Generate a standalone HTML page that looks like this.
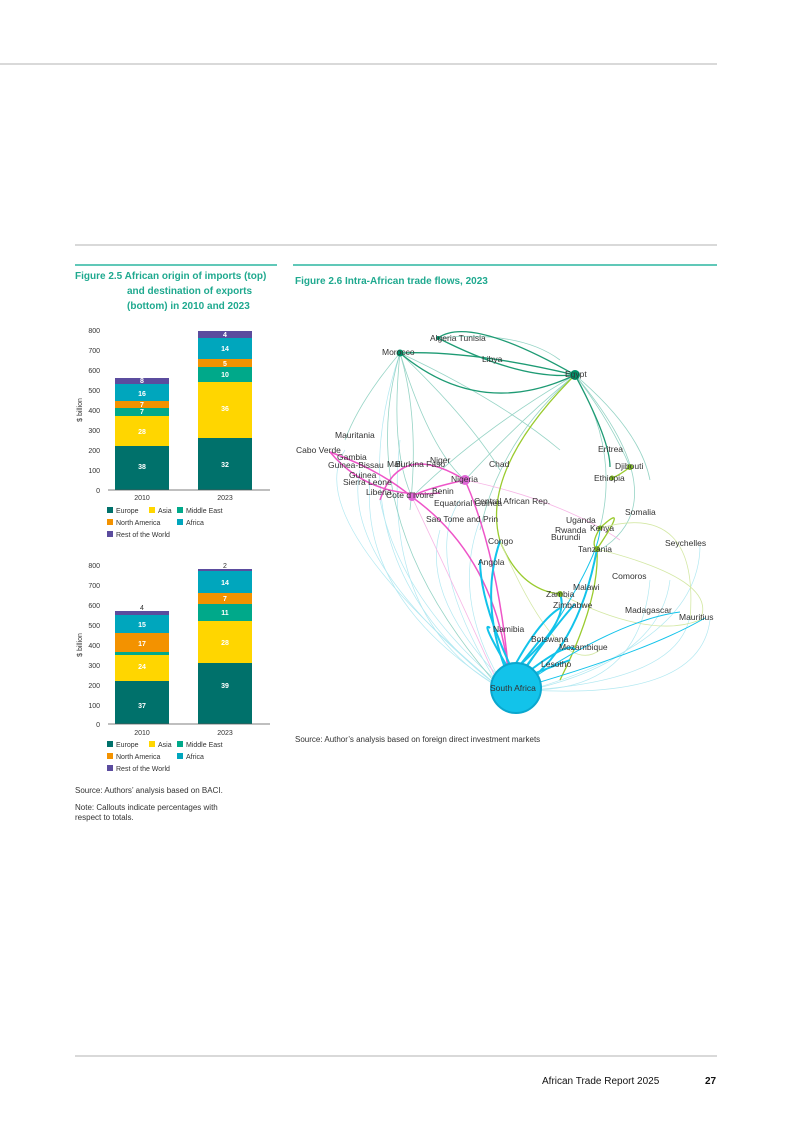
<!DOCTYPE html>
<html><head><meta charset="utf-8"><style>
body{margin:0;background:#fff;}
svg{display:block;font-family:"Liberation Sans",sans-serif;}
</style></head><body>
<svg width="793" height="1121" viewBox="0 0 793 1121" xmlns="http://www.w3.org/2000/svg">
<rect width="793" height="1121" fill="#fff"/>
<line x1="0" y1="64" x2="717" y2="64" stroke="#b3b3b3" stroke-width="1"/>
<line x1="75" y1="245" x2="717" y2="245" stroke="#b3b3b3" stroke-width="1"/>
<line x1="75" y1="265" x2="277" y2="265" stroke="#2bb5a0" stroke-width="1.5"/>
<line x1="293" y1="265" x2="717" y2="265" stroke="#2bb5a0" stroke-width="1.5"/>
<line x1="75" y1="1056" x2="717" y2="1056" stroke="#b3b3b3" stroke-width="1"/>

<g font-weight="bold" font-size="10" fill="#1fa98f">
<text x="75" y="279">Figure 2.5 African origin of imports (top)</text>
<text x="127" y="294">and destination of exports</text>
<text x="127" y="309">(bottom) in 2010 and 2023</text>
<text x="295" y="284">Figure 2.6 Intra-African trade flows, 2023</text>
</g>

<!-- Chart 1 -->
<g font-size="7" fill="#333">
<text x="100" y="333" text-anchor="end">800</text>
<text x="100" y="353" text-anchor="end">700</text>
<text x="100" y="373" text-anchor="end">600</text>
<text x="100" y="393" text-anchor="end">500</text>
<text x="100" y="413" text-anchor="end">400</text>
<text x="100" y="433" text-anchor="end">300</text>
<text x="100" y="453" text-anchor="end">200</text>
<text x="100" y="473" text-anchor="end">100</text>
<text x="100" y="493" text-anchor="end">0</text>
<text transform="translate(82,410) rotate(-90)" text-anchor="middle">$ billion</text>
<text x="142" y="500" text-anchor="middle">2010</text>
<text x="225" y="500" text-anchor="middle">2023</text>
</g>
<g>
<rect x="115" y="446" width="54" height="44" fill="#00716b"/>
<rect x="115" y="416" width="54" height="30" fill="#ffd600"/>
<rect x="115" y="408" width="54" height="8" fill="#00a98a"/>
<rect x="115" y="401" width="54" height="7" fill="#f39200"/>
<rect x="115" y="384" width="54" height="17" fill="#00a6bd"/>
<rect x="115" y="378" width="54" height="6" fill="#5b4c9e"/>
<rect x="198" y="438" width="54" height="52" fill="#00716b"/>
<rect x="198" y="382" width="54" height="56" fill="#ffd600"/>
<rect x="198" y="367" width="54" height="15" fill="#00a98a"/>
<rect x="198" y="359" width="54" height="8" fill="#f39200"/>
<rect x="198" y="338" width="54" height="21" fill="#00a6bd"/>
<rect x="198" y="331" width="54" height="7" fill="#5b4c9e"/>
</g>
<line x1="108" y1="490" x2="270" y2="490" stroke="#555" stroke-width="0.8"/>
<g font-size="7" fill="#fff" text-anchor="middle" font-weight="bold">
<text x="142" y="469">38</text><text x="142" y="434">28</text><text x="142" y="414">7</text><text x="142" y="407">7</text><text x="142" y="396">16</text><text x="142" y="383">8</text>
<text x="225" y="467">32</text><text x="225" y="411">36</text><text x="225" y="377">10</text><text x="225" y="366">5</text><text x="225" y="351">14</text><text x="225" y="337">4</text>
</g>
<g font-size="7" fill="#333">
<rect x="107" y="507" width="6" height="6" fill="#00716b"/><text x="116" y="513">Europe</text>
<rect x="149" y="507" width="6" height="6" fill="#ffd600"/><text x="158" y="513">Asia</text>
<rect x="177" y="507" width="6" height="6" fill="#00a98a"/><text x="186" y="513">Middle East</text>
<rect x="107" y="519" width="6" height="6" fill="#f39200"/><text x="116" y="525">North America</text>
<rect x="177" y="519" width="6" height="6" fill="#00a6bd"/><text x="186" y="525">Africa</text>
<rect x="107" y="531" width="6" height="6" fill="#5b4c9e"/><text x="116" y="537">Rest of the World</text>
</g>

<!-- Chart 2 -->
<g font-size="7" fill="#333">
<text x="100" y="568" text-anchor="end">800</text>
<text x="100" y="588" text-anchor="end">700</text>
<text x="100" y="608" text-anchor="end">600</text>
<text x="100" y="628" text-anchor="end">500</text>
<text x="100" y="648" text-anchor="end">400</text>
<text x="100" y="668" text-anchor="end">300</text>
<text x="100" y="688" text-anchor="end">200</text>
<text x="100" y="708" text-anchor="end">100</text>
<text x="100" y="727" text-anchor="end">0</text>
<text transform="translate(82,645) rotate(-90)" text-anchor="middle">$ billion</text>
<text x="142" y="735" text-anchor="middle">2010</text>
<text x="225" y="735" text-anchor="middle">2023</text>
<text x="142" y="610" text-anchor="middle">4</text>
<text x="225" y="568" text-anchor="middle">2</text>
</g>
<g>
<rect x="115" y="681" width="54" height="43" fill="#00716b"/>
<rect x="115" y="655" width="54" height="26" fill="#ffd600"/>
<rect x="115" y="652" width="54" height="3" fill="#00a98a"/>
<rect x="115" y="633" width="54" height="19" fill="#f39200"/>
<rect x="115" y="615" width="54" height="18" fill="#00a6bd"/>
<rect x="115" y="611" width="54" height="4" fill="#5b4c9e"/>
<rect x="198" y="663" width="54" height="61" fill="#00716b"/>
<rect x="198" y="621" width="54" height="42" fill="#ffd600"/>
<rect x="198" y="604" width="54" height="17" fill="#00a98a"/>
<rect x="198" y="593" width="54" height="11" fill="#f39200"/>
<rect x="198" y="571" width="54" height="22" fill="#00a6bd"/>
<rect x="198" y="569" width="54" height="2" fill="#5b4c9e"/>
</g>
<line x1="108" y1="724" x2="270" y2="724" stroke="#555" stroke-width="0.8"/>
<g font-size="7" fill="#fff" text-anchor="middle" font-weight="bold">
<text x="142" y="708">37</text><text x="142" y="669">24</text><text x="142" y="646">17</text><text x="142" y="627">15</text>
<text x="225" y="688">39</text><text x="225" y="645">28</text><text x="225" y="615">11</text><text x="225" y="601">7</text><text x="225" y="585">14</text>
</g>
<g font-size="7" fill="#333">
<rect x="107" y="741" width="6" height="6" fill="#00716b"/><text x="116" y="747">Europe</text>
<rect x="149" y="741" width="6" height="6" fill="#ffd600"/><text x="158" y="747">Asia</text>
<rect x="177" y="741" width="6" height="6" fill="#00a98a"/><text x="186" y="747">Middle East</text>
<rect x="107" y="753" width="6" height="6" fill="#f39200"/><text x="116" y="759">North America</text>
<rect x="177" y="753" width="6" height="6" fill="#00a6bd"/><text x="186" y="759">Africa</text>
<rect x="107" y="765" width="6" height="6" fill="#5b4c9e"/><text x="116" y="771">Rest of the World</text>
</g>
<g font-size="8" fill="#333">
<text x="75" y="793">Source: Authors’ analysis based on BACI.</text>
<text x="75" y="810">Note: Callouts indicate percentages with</text>
<text x="75" y="820">respect to totals.</text>
<text x="295" y="742">Source: Author’s analysis based on foreign direct investment markets</text>
</g>

<!-- Network -->
<g fill="none">
<g stroke="#9fe3ee" stroke-width="0.7" opacity="0.8">
<path d="M500,688 Q330,560 400,353"/><path d="M500,688 Q300,520 345,450"/><path d="M500,688 Q340,560 360,470"/>
<path d="M505,688 Q400,600 380,500"/><path d="M530,690 Q700,640 700,545"/><path d="M530,690 Q680,680 690,615"/>
<path d="M530,690 Q640,690 650,580"/><path d="M500,688 Q380,620 400,440"/><path d="M510,688 Q420,600 440,530"/>
<path d="M500,688 Q360,600 370,480"/><path d="M500,688 Q420,560 460,500"/><path d="M530,690 Q700,700 710,620"/>
<path d="M505,688 Q450,600 480,520"/><path d="M530,690 Q660,660 670,580"/>
</g>
<g stroke="#7cc9b7" stroke-width="0.8" opacity="0.8">
<path d="M400,353 Q360,400 345,440"/><path d="M400,353 Q390,450 412,497"/><path d="M400,353 Q430,450 465,480"/>
<path d="M400,353 Q420,420 410,510"/><path d="M575,375 Q520,420 465,480"/><path d="M575,375 Q610,420 630,467"/>
<path d="M575,375 Q640,430 650,480"/><path d="M575,375 Q620,450 600,528"/><path d="M400,353 Q350,520 500,688"/>
<path d="M575,375 Q680,500 600,550"/><path d="M575,375 Q480,430 412,497"/><path d="M400,353 Q470,420 500,470"/>
<path d="M400,353 Q500,400 560,450"/><path d="M438,338 Q520,330 560,360"/><path d="M575,375 Q500,440 480,530"/>
</g>
<g stroke="#1e9b74" stroke-width="1.3">
<path d="M400,353 Q480,420 575,375"/><path d="M438,338 Q470,315 575,375"/><path d="M438,338 Q520,380 575,375"/>
<path d="M400,353 Q470,350 575,375"/><path d="M575,375 Q610,440 610,467"/>
</g>
<g stroke="#ee55c8" stroke-width="1.5">
<path d="M465,480 Q420,490 412,497"/><path d="M465,480 Q500,560 510,688"/><path d="M412,497 Q500,560 510,688"/>
<path d="M330,452 Q380,470 412,497"/><path d="M330,452 Q370,500 440,493"/><path d="M465,480 Q400,440 380,500"/>
</g>
<g stroke="#f7b6e6" stroke-width="0.8">
<path d="M465,480 Q560,500 620,540"/><path d="M412,497 Q470,620 500,688"/>
</g>
<g stroke="#9acb2e" stroke-width="1.3">
<path d="M500,541 Q520,590 560,594"/><path d="M597,549 Q600,600 560,680"/><path d="M600,528 Q590,545 597,549"/>
<path d="M575,375 Q480,470 500,541"/><path d="M630,467 Q620,475 612,478"/><path d="M597,549 Q630,500 600,528"/>
</g>
<g stroke="#d4e8a5" stroke-width="0.8">
<path d="M597,549 Q720,580 700,620"/><path d="M560,594 Q650,640 700,620"/><path d="M600,528 Q700,500 690,620"/>
<path d="M500,541 Q560,680 600,650"/>
</g>
<g stroke="#12c3ea" stroke-width="2">
<path d="M505,668 Q480,600 500,541"/><path d="M508,668 Q480,620 490,628"/><path d="M520,665 Q540,640 540,640"/>
<path d="M525,668 Q560,620 575,604"/><path d="M528,672 Q570,640 575,650"/><path d="M530,675 Q570,660 570,660"/>
<path d="M530,680 Q580,640 597,549"/><path d="M520,665 Q570,620 560,594"/><path d="M510,665 Q480,600 480,560"/>
<path d="M515,665 Q540,620 560,608"/>
</g>
<g stroke="#12c3ea" stroke-width="1">
<path d="M530,680 Q620,620 680,612"/><path d="M530,685 Q650,650 705,618"/><path d="M525,670 Q600,560 600,528"/>
</g>
</g>
<g fill="#009068">
<circle cx="400" cy="353" r="3.5"/><circle cx="575" cy="375" r="5"/><circle cx="438" cy="338" r="2"/>
</g>
<g fill="#e066d6">
<circle cx="465" cy="480" r="5"/><circle cx="412" cy="497" r="4"/>
</g>
<g fill="#7db820">
<circle cx="600" cy="528" r="2.5"/><circle cx="597" cy="549" r="3"/><circle cx="560" cy="594" r="3"/><circle cx="630" cy="467" r="3"/><circle cx="612" cy="478" r="2.5"/>
</g>
<circle cx="516" cy="688" r="25" fill="#12c3ea" stroke="#0aa7ce" stroke-width="2"/>
<g font-size="8.5" fill="#333">
<text x="382" y="355">Morocco</text><text x="430" y="341">Algeria Tunisia</text><text x="482" y="362">Libya</text>
<text x="565" y="377">Egypt</text><text x="335" y="438">Mauritania</text><text x="296" y="453">Cabo Verde</text>
<text x="337" y="460">Gambia</text><text x="328" y="468">Guinea-Bissau</text><text x="349" y="478">Guinea</text>
<text x="343" y="485">Sierra Leone</text><text x="366" y="495">Liberia</text><text x="386" y="498">Cote d’Ivoire</text>
<text x="387" y="467">Mali</text><text x="395" y="467">Burkina Faso</text><text x="430" y="463">Niger</text>
<text x="489" y="467">Chad</text><text x="451" y="482">Nigeria</text><text x="432" y="494">Benin</text>
<text x="434" y="506">Equatorial Guinea</text><text x="474" y="504">Central African Rep.</text>
<text x="426" y="522">Sao Tome and Prin</text><text x="488" y="544">Congo</text><text x="478" y="565">Angola</text>
<text x="598" y="452">Eritrea</text><text x="615" y="469">Djibouti</text><text x="594" y="481">Ethiopia</text>
<text x="625" y="515">Somalia</text><text x="566" y="523">Uganda</text><text x="555" y="533">Rwanda</text>
<text x="590" y="531">Kenya</text><text x="551" y="540">Burundi</text><text x="578" y="552">Tanzania</text>
<text x="665" y="546">Seychelles</text><text x="612" y="579">Comoros</text><text x="573" y="590">Malawi</text>
<text x="546" y="597">Zambia</text><text x="553" y="608">Zimbabwe</text><text x="625" y="613">Madagascar</text>
<text x="679" y="620">Mauritius</text><text x="493" y="632">Namibia</text><text x="531" y="642">Botswana</text>
<text x="559" y="650">Mozambique</text><text x="541" y="667">Lesotho</text><text x="490" y="691">South Africa</text>
</g>

<g font-size="10" fill="#111">
<text x="542" y="1084">African Trade Report 2025</text>
<text x="705" y="1084" font-weight="bold">27</text>
</g>
</svg>
</body></html>
